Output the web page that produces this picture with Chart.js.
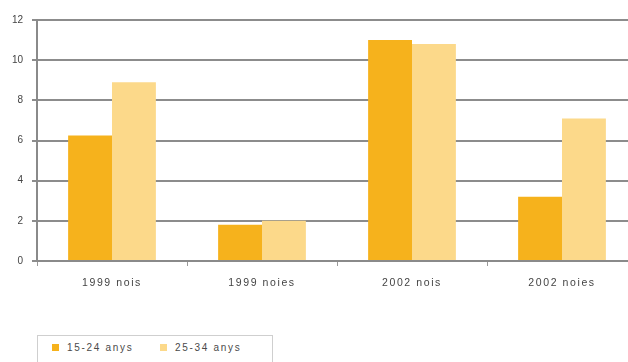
<!DOCTYPE html>
<html lang="ca">
<head>
  <meta charset="UTF-8" />
  <title>Anys</title>
  <script src="https://cdn.jsdelivr.net/npm/chart.js"></script>
  <style>
    html, body { margin: 0; padding: 0; background: #fff; overflow: hidden; }
    #wrap { position: relative; width: 628px; height: 362px; overflow: hidden; }
    #chartBox { position: absolute; left: 0; top: 0; width: 637px; height: 300px; }
    /* llegenda amb marc */
    #legend {
      position: absolute; left: 37px; top: 335px; width: 236px; height: 40px;
      border: 1px solid #cfcfcf; box-sizing: border-box;
      font: 10px "Liberation Sans", Arial, sans-serif; color: #4a4a4a;
      letter-spacing: 1.7px;
    }
    #legend span.item { position: absolute; top: 6px; white-space: nowrap; }
    #legend i { display: inline-block; width: 7px; height: 7px; margin-right: 8px; }
  </style>
</head>
<body>
  <div id="wrap">
    <div id="chartBox"><canvas id="anysChart" width="637" height="300"></canvas></div>
    <div id="legend"></div>
  </div>

  <script>
    // dades
    const categories = ['1999 nois', '1999 noies', '2002 nois', '2002 noies'];
    const seriesNames = ['15-24 anys', '25-34 anys'];
    const young = [6.25, 1.8, 11.0, 3.2];
    const older = [8.9, 2.0, 10.8, 7.1];
    const yTicks = [0, 2, 4, 6, 8, 10, 12];

    const colors = ['#f6b21c', '#fcd98a'];

    // espaiat de lletres per a les etiquetes de l'eix x
    const spacedLabels = {
      id: 'spacedLabels',
      afterLayout(chart) {
        const s = chart.scales.x;
        if (s._spaced) return;
        const draw = s.drawLabels;
        s.drawLabels = function (area) {
          const c = this.ctx;
          c.save();
          c.letterSpacing = '1.6px';
          draw.call(this, area);
          c.restore();
        };
        s._spaced = true;
      }
    };

    const ctx = document.getElementById('anysChart').getContext('2d');
    new Chart(ctx, {
      type: 'bar',
      data: {
        labels: categories,
        datasets: [
          { label: seriesNames[0], data: young, backgroundColor: colors[0] },
          { label: seriesNames[1], data: older, backgroundColor: colors[1] }
        ]
      },
      options: {
        responsive: false,
        animation: false,
        devicePixelRatio: 1,
        layout: { padding: { top: 20, right: 0, left: 0, bottom: 0 } },
        datasets: { bar: { categoryPercentage: 0.585, barPercentage: 1 } },
        plugins: { legend: { display: false }, tooltip: { enabled: false } },
        scales: {
          x: {
            offset: true,
            grid: { display: true, offset: true, drawOnChartArea: false, drawTicks: true, tickLength: 5, color: '#9a9a9a' },
            border: { display: true, color: '#8a8a8a', width: 2 },
            ticks: { padding: 11, color: '#444', font: { family: 'Liberation Sans', size: 10.5 } },
            afterFit(scale) { scale.height = 39; }
          },
          y: {
            min: 0,
            max: 12,
            afterBuildTicks(scale) { scale.ticks = yTicks.map(v => ({ value: v })); },
            grid: { color: '#8c8c8c', lineWidth: 2, tickLength: 5 },
            border: { display: true, color: '#8a8a8a', width: 2 },
            ticks: { padding: 9, color: '#444', font: { family: 'Liberation Sans', size: 10 } },
            afterFit(scale) { scale.width = 37; }
          }
        }
      },
      plugins: [spacedLabels]
    });

    // llegenda
    const legend = document.getElementById('legend');
    const lefts = [14, 122];
    seriesNames.forEach((name, i) => {
      const item = document.createElement('span');
      item.className = 'item';
      item.style.left = lefts[i] + 'px';
      item.innerHTML = '<i style="background:' + colors[i] + '"></i>' + name;
      legend.appendChild(item);
    });
  </script>
</body>
</html>
